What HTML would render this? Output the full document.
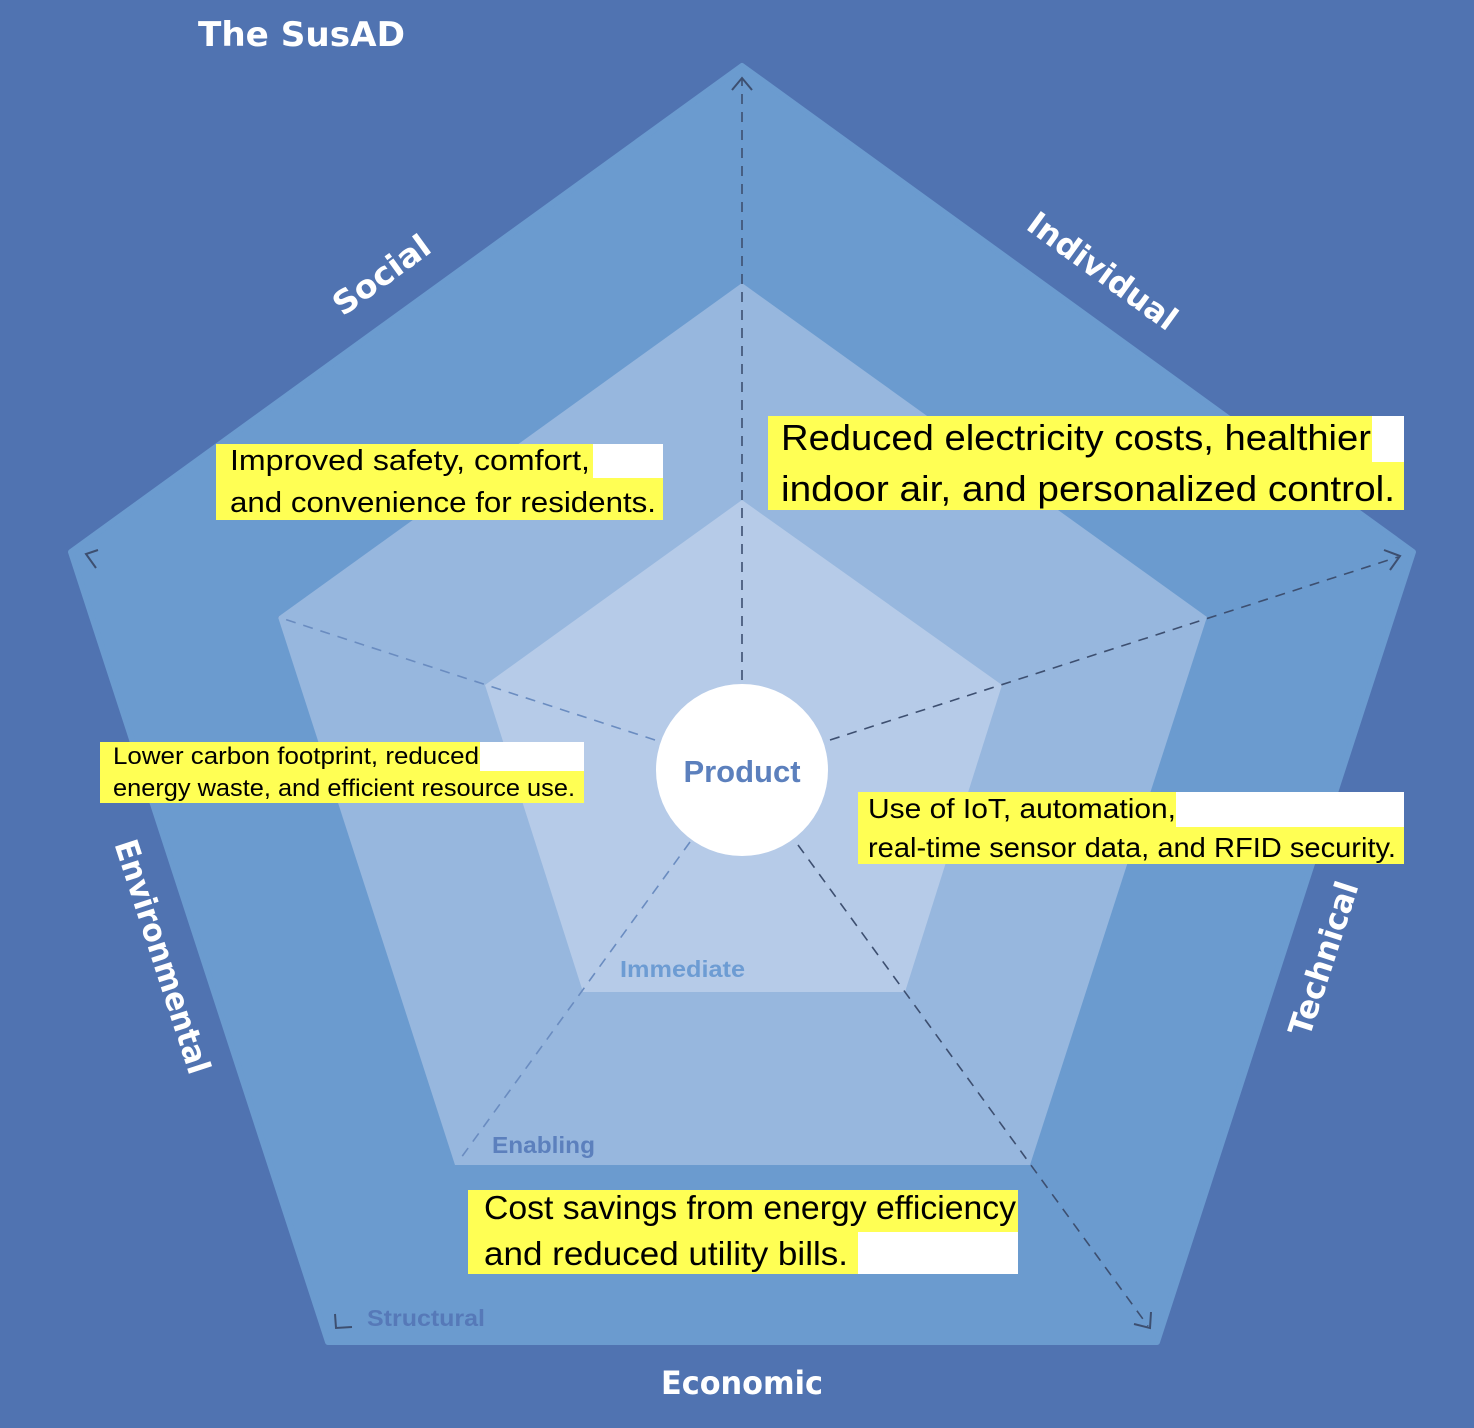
<!DOCTYPE html>
<html><head><meta charset="utf-8"><style>
html,body{margin:0;padding:0;background:#5073b1;}
svg{display:block}
.h{font-family:"Liberation Sans",sans-serif;fill:#000}
.lab{font-family:"DejaVu Sans","Liberation Sans",sans-serif;font-weight:bold;fill:#fff}
</style></head><body>
<svg width="1474" height="1428" viewBox="0 0 1474 1428" xmlns="http://www.w3.org/2000/svg">
<rect width="1474" height="1428" fill="#5073b1"/>
<polygon points="742,66 1413,552 1157,1342 328,1342 71,552" fill="#6b9bcf" stroke="#6b9bcf" stroke-width="6" stroke-linejoin="round"/>
<polygon points="742,283 1207,617 1030,1165 455,1165 278,617" fill="#97b7de"/>
<polygon points="742,500 1002,685 905,992 583,992 485,685" fill="#b6cbe8"/>
<text x="198" y="46" class="lab" font-size="34" textLength="207" lengthAdjust="spacingAndGlyphs">The SusAD</text>
<g fill="none" stroke-dasharray="10,8" stroke-width="1.6">
<line x1="742" y1="680" x2="742" y2="78" stroke="#3d4f70"/>
<line x1="830" y1="740" x2="1398" y2="557" stroke="#3d4f70"/>
<line x1="798" y1="845" x2="1148" y2="1326" stroke="#3d4f70"/>
<line x1="655" y1="740" x2="278" y2="617" stroke="#6a8cc0"/>
<line x1="690" y1="842" x2="458" y2="1162" stroke="#6a8cc0"/>
</g>
<g fill="none" stroke="#3d4f70" stroke-width="2">
<polyline points="732,90 742,78 752,90"/>
<polyline points="1384,550 1400,556 1390,570"/>
<polyline points="1134,1324 1150,1328 1151,1312"/>
<polyline points="98,550 86,554 96,568"/>
<polyline points="335,1314 336,1328 352,1327"/>
</g>
<circle cx="742" cy="770" r="86" fill="#fff"/>
<text x="742" y="782" font-family="Liberation Sans,sans-serif" font-weight="bold" font-size="31" fill="#5c80bd" text-anchor="middle">Product</text>
<text x="620" y="977" font-family="Liberation Sans,sans-serif" font-weight="bold" font-size="23" fill="#6d9cd3" textLength="125" lengthAdjust="spacingAndGlyphs">Immediate</text>
<text x="492" y="1153" font-family="Liberation Sans,sans-serif" font-weight="bold" font-size="23" fill="#5c80bd" textLength="103" lengthAdjust="spacingAndGlyphs">Enabling</text>
<text x="367" y="1326" font-family="Liberation Sans,sans-serif" font-weight="bold" font-size="23" fill="#5679b8" textLength="118" lengthAdjust="spacingAndGlyphs">Structural</text>
<text class="lab" font-size="32" text-anchor="middle" textLength="112" lengthAdjust="spacingAndGlyphs" transform="translate(388,284) rotate(-36)">Social</text>
<text class="lab" font-size="32" text-anchor="middle" textLength="176" lengthAdjust="spacingAndGlyphs" transform="translate(1096,280) rotate(36)">Individual</text>
<text class="lab" font-size="32" text-anchor="middle" textLength="160" lengthAdjust="spacingAndGlyphs" transform="translate(1334,962) rotate(-72)">Technical</text>
<text class="lab" font-size="32" text-anchor="middle" textLength="244" lengthAdjust="spacingAndGlyphs" transform="translate(152,960) rotate(72)">Environmental</text>
<text class="lab" font-size="32" text-anchor="middle" x="742" y="1394" textLength="162" lengthAdjust="spacingAndGlyphs">Economic</text>
<!-- box1 -->
<rect x="216" y="444" width="447" height="76" fill="#fff"/>
<rect x="216" y="444" width="377" height="36" fill="#ffff54"/>
<rect x="216" y="478" width="447" height="42" fill="#ffff54"/>
<text class="h" x="230" y="470" font-size="29" textLength="360" lengthAdjust="spacingAndGlyphs">Improved safety, comfort,</text>
<text class="h" x="230" y="512" font-size="29" textLength="426" lengthAdjust="spacingAndGlyphs">and convenience for residents.</text>
<!-- box2 -->
<rect x="768" y="416" width="636" height="94" fill="#fff"/>
<rect x="768" y="416" width="604" height="47" fill="#ffff54"/>
<rect x="768" y="462" width="636" height="48" fill="#ffff54"/>
<text class="h" x="781" y="450" font-size="36" textLength="590" lengthAdjust="spacingAndGlyphs">Reduced electricity costs, healthier</text>
<text class="h" x="781" y="501" font-size="36" textLength="614" lengthAdjust="spacingAndGlyphs">indoor air, and personalized control.</text>
<!-- box3 -->
<rect x="100" y="742" width="484" height="61" fill="#fff"/>
<rect x="100" y="742" width="380" height="30" fill="#ffff54"/>
<rect x="100" y="771" width="484" height="32" fill="#ffff54"/>
<text class="h" x="113" y="764" font-size="24" textLength="366" lengthAdjust="spacingAndGlyphs">Lower carbon footprint, reduced</text>
<text class="h" x="113" y="796" font-size="24" textLength="462" lengthAdjust="spacingAndGlyphs">energy waste, and efficient resource use.</text>
<!-- box4 -->
<rect x="858" y="792" width="546" height="72" fill="#fff"/>
<rect x="858" y="792" width="318" height="36" fill="#ffff54"/>
<rect x="858" y="827" width="546" height="37" fill="#ffff54"/>
<text class="h" x="868" y="818" font-size="28" textLength="308" lengthAdjust="spacingAndGlyphs">Use of IoT, automation,</text>
<text class="h" x="868" y="857" font-size="28" textLength="528" lengthAdjust="spacingAndGlyphs">real-time sensor data, and RFID security.</text>
<!-- box5 -->
<rect x="468" y="1190" width="550" height="84" fill="#fff"/>
<rect x="468" y="1190" width="550" height="42" fill="#ffff54"/>
<rect x="468" y="1231" width="390" height="43" fill="#ffff54"/>
<text class="h" x="484" y="1219" font-size="33" textLength="532" lengthAdjust="spacingAndGlyphs">Cost savings from energy efficiency</text>
<text class="h" x="484" y="1265" font-size="33" textLength="364" lengthAdjust="spacingAndGlyphs">and reduced utility bills.</text>
</svg>
</body></html>
